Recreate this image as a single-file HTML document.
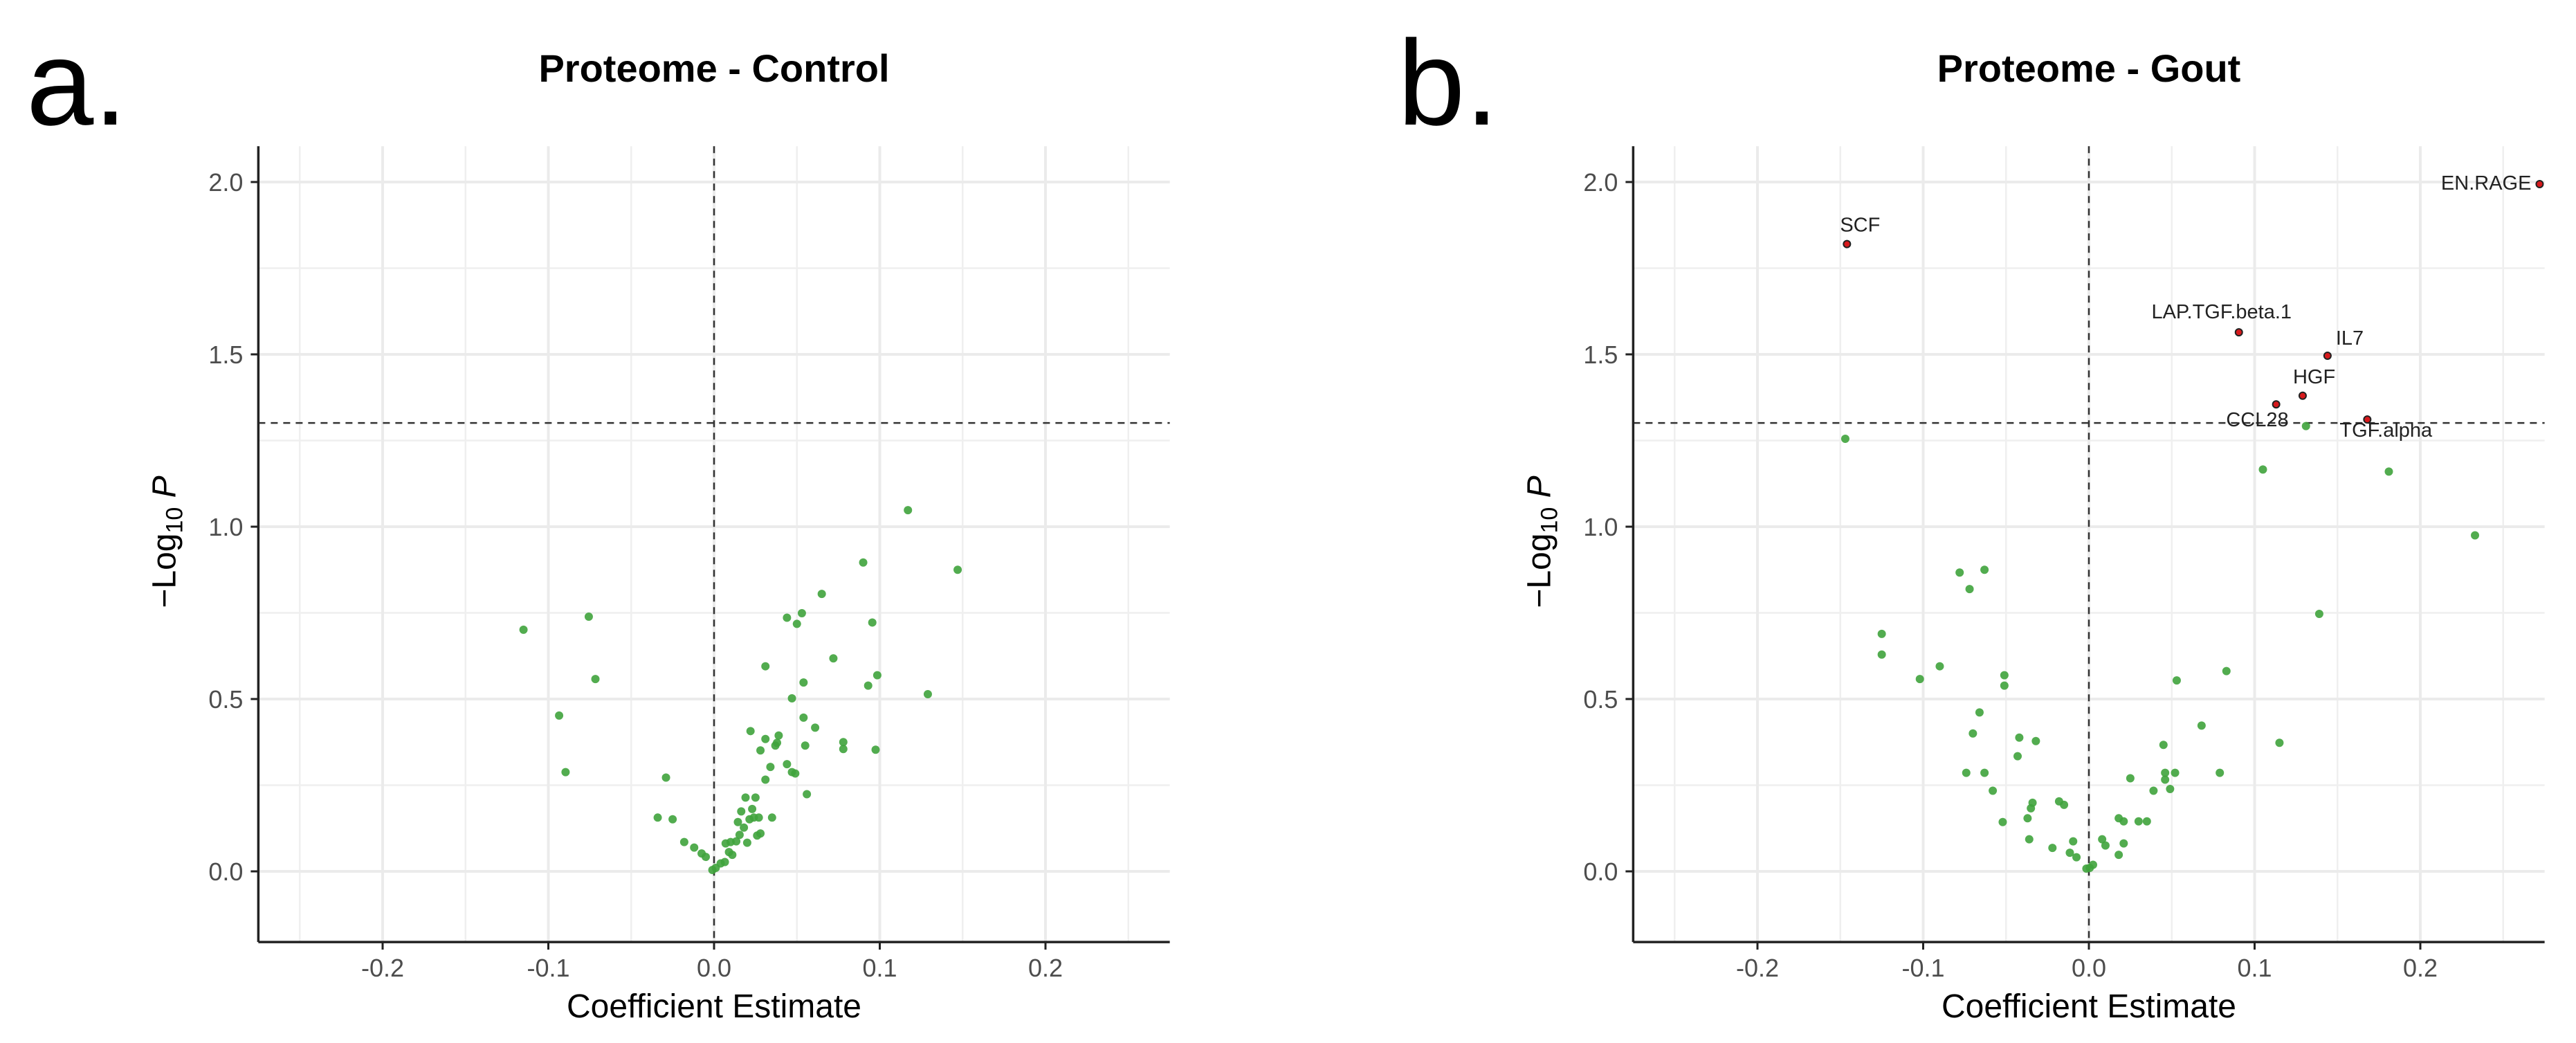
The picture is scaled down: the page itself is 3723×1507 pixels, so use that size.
<!DOCTYPE html>
<html><head><meta charset="utf-8">
<style>
html,body{margin:0;padding:0;background:#fff;}
svg{display:block;font-family:"Liberation Sans",sans-serif;}
</style></head>
<body>
<svg id="fig" width="3723" height="1507" viewBox="0 0 3723 1507" xmlns="http://www.w3.org/2000/svg">
<text x="38" y="180" font-size="175" fill="#000">a.</text>
<text x="2020" y="180" font-size="175" fill="#000">b.</text>
</svg>
<script>
// ---- data ----
const xTicks = [-0.2, -0.1, 0.0, 0.1, 0.2];
const xTickLabels = ["-0.2", "-0.1", "0.0", "0.1", "0.2"];
const yTicks = [0, 0.5, 1.0, 1.5, 2.0];
const yTickLabels = ["0.0", "0.5", "1.0", "1.5", "2.0"];
const pThreshold = 1.301;

const controlX = [-0.115,-0.0756,-0.0716,-0.0935,-0.0896,-0.029,-0.034,-0.025,-0.018,-0.012,-0.0075,-0.005,-0.001,0.001,0.004,0.0065,0.007,0.009,0.011,0.010,0.0134,0.0144,0.0164,0.0154,0.018,0.019,0.020,0.0214,0.023,0.025,0.024,0.027,0.026,0.028,0.022,0.028,0.031,0.031,0.034,0.035,0.031,0.037,0.039,0.038,0.044,0.047,0.049,0.047,0.044,0.050,0.053,0.054,0.054,0.055,0.056,0.061,0.065,0.072,0.078,0.078,0.090,0.093,0.0955,0.0985,0.0975,0.117,0.129,0.147];
const controlY = [0.701,0.739,0.558,0.452,0.288,0.272,0.156,0.151,0.085,0.069,0.052,0.042,0.004,0.010,0.023,0.027,0.081,0.056,0.048,0.085,0.087,0.143,0.174,0.106,0.127,0.214,0.083,0.151,0.181,0.214,0.156,0.156,0.104,0.110,0.407,0.351,0.384,0.266,0.303,0.156,0.595,0.365,0.394,0.373,0.311,0.288,0.284,0.502,0.736,0.718,0.749,0.548,0.446,0.365,0.224,0.417,0.805,0.618,0.375,0.355,0.896,0.539,0.722,0.569,0.353,1.048,0.514,0.875];

const goutX = [-0.147,0.105,0.131,0.181,0.233,0.139,0.083,0.053,0.068,0.115,0.079,0.045,0.052,0.046,0.046,0.049,0.039,0.025,0.030,0.035,0.018,0.021,0.021,0.018,0.008,0.010,0.0025,0.0005,-0.0015,-0.0095,-0.0115,-0.0075,-0.015,-0.018,-0.022,-0.034,-0.035,-0.037,-0.036,-0.032,-0.042,-0.043,-0.052,-0.058,-0.063,-0.074,-0.070,-0.066,-0.051,-0.051,-0.090,-0.102,-0.125,-0.125,-0.078,-0.072,-0.063];
const goutY = [1.255,1.166,1.292,1.160,0.975,0.747,0.581,0.554,0.423,0.373,0.286,0.367,0.286,0.286,0.266,0.239,0.234,0.270,0.145,0.145,0.154,0.145,0.081,0.048,0.093,0.075,0.019,0.010,0.008,0.087,0.054,0.041,0.193,0.203,0.068,0.199,0.183,0.154,0.093,0.378,0.388,0.334,0.143,0.234,0.286,0.286,0.400,0.461,0.569,0.539,0.595,0.558,0.629,0.689,0.867,0.819,0.875];

const sigNames = ["SCF","LAP.TGF.beta.1","IL7","HGF","CCL28","TGF.alpha","EN.RAGE"];
const sigX = [-0.146,0.0905,0.144,0.129,0.113,0.168,0.272];
const sigY = [1.820,1.564,1.496,1.380,1.355,1.311,1.994];

// ---- layout ----
const NS = "http://www.w3.org/2000/svg";
const svg = document.getElementById('fig');
const X0 = [1032, 3019];     // pixel of x=0 for each panel
const XPPU = 2395;           // px per unit x
const Y0 = 1259, YPPU = 498; // pixel of y=0, px per unit y
const XMIN = -0.275, XMAX = 0.275, YMIN = -0.205, YMAX = 2.104;

function mk(tag, attrs, parent){
  const e = document.createElementNS(NS, tag);
  for (const k in attrs) e.setAttribute(k, attrs[k]);
  (parent||svg).appendChild(e);
  return e;
}
function drawPanel(p, title, xs, ys, labeled){
  const sx = v => X0[p] + v*XPPU;
  const sy = v => Y0 - v*YPPU;
  const L = sx(XMIN), R = sx(XMAX), T = sy(YMAX), B = sy(YMIN);
  const g = mk('g', {});
  
  
  // minor grid
  for (let v=-0.25; v<=0.2501; v+=0.1){
    const l = mk('line',{x1:sx(v),x2:sx(v),y1:T,y2:B,stroke:'#efefef','stroke-width':2.5},g);
    
    
  }
  for (let v=0.25; v<=1.76; v+=0.5){
    const l = mk('line',{x1:L,x2:R,y1:sy(v),y2:sy(v),stroke:'#efefef','stroke-width':2.5},g);
    
    
  }
  // major grid
  xTicks.forEach(v=>{
    const l = mk('line',{x1:sx(v),x2:sx(v),y1:T,y2:B,stroke:'#ebebeb','stroke-width':4},g);
    
    
  });
  yTicks.forEach(v=>{
    const l = mk('line',{x1:L,x2:R,y1:sy(v),y2:sy(v),stroke:'#ebebeb','stroke-width':4},g);
    
    
  });
  // dashed reference lines
  const vl = mk('line',{x1:sx(0),x2:sx(0),y1:T,y2:B,stroke:'#333','stroke-width':2.5,'stroke-dasharray':'10 8'},g);
  
  
  const hl = mk('line',{x1:L,x2:R,y1:sy(pThreshold),y2:sy(pThreshold),stroke:'#333','stroke-width':2.5,'stroke-dasharray':'10 8'},g);
  
  
  // points
  xs.forEach((v,i)=>{
    const c = mk('circle',{cx:sx(v),cy:sy(ys[i]),r:6,fill:'#3fa33c','fill-opacity':0.9},g);
    
    
  });
  if (labeled){
    const anchors = ['start','middle','start','start','end','start','end'];
    const dx = [-10,-25,12,-14,18,-40,-12];
    const dy = [-18,-20,-16,-18,32,25,8];
    sigX.forEach((v,i)=>{
      const c = mk('circle',{cx:sx(v),cy:sy(sigY[i]),r:5,fill:'#d7191c',stroke:'#222','stroke-width':2},g);
      
      
      const t = mk('text',{x:sx(v)+dx[i],y:sy(sigY[i])+dy[i],'font-size':29,fill:'#222','text-anchor':anchors[i]},g);
      t.textContent = sigNames[i];
      
      
    });
  }
  // axes
  const ax = mk('line',{x1:L,x2:R,y1:B,y2:B,stroke:'#222','stroke-width':3.5},g);
  
  
  const ay = mk('line',{x1:L,x2:L,y1:T,y2:B,stroke:'#222','stroke-width':3.5},g);
  
  
  xTicks.forEach((v,i)=>{
    const tk = mk('line',{x1:sx(v),x2:sx(v),y1:B,y2:B+11,stroke:'#222','stroke-width':3},g);
    
    
    const t = mk('text',{x:sx(v),y:B+50,'font-size':36,fill:'#4d4d4d','text-anchor':'middle'},g);
    t.textContent = xTickLabels[i];
    
    
  });
  yTicks.forEach((v,i)=>{
    const tk = mk('line',{x1:L-11,x2:L,y1:sy(v),y2:sy(v),stroke:'#222','stroke-width':3},g);
    
    
    const t = mk('text',{x:L-22,y:sy(v)+13,'font-size':36,fill:'#4d4d4d','text-anchor':'end'},g);
    t.textContent = yTickLabels[i];
    
    
  });
  // titles
  const tt = mk('text',{x:X0[p],y:118,'font-size':56,'font-weight':'bold',fill:'#000','text-anchor':'middle'},g);
  tt.textContent = title;
  
  
  const xt = mk('text',{x:X0[p],y:1470,'font-size':48,fill:'#000','text-anchor':'middle'},g);
  xt.textContent = 'Coefficient Estimate';
  
  
  const cx = L-120, cy = 783;
  const yt = mk('text',{x:cx,y:cy,'font-size':48,fill:'#000','text-anchor':'middle',transform:'rotate(-90 '+cx+' '+cy+')'},g);
  yt.innerHTML = '\u2212Log<tspan font-size="34" dy="10">10</tspan><tspan dy="-10"> </tspan><tspan font-style="italic">P</tspan>';
  
  
}
drawPanel(0, 'Proteome - Control', controlX, controlY, false);
drawPanel(1, 'Proteome - Gout', goutX, goutY, true);
</script>
</body></html>
